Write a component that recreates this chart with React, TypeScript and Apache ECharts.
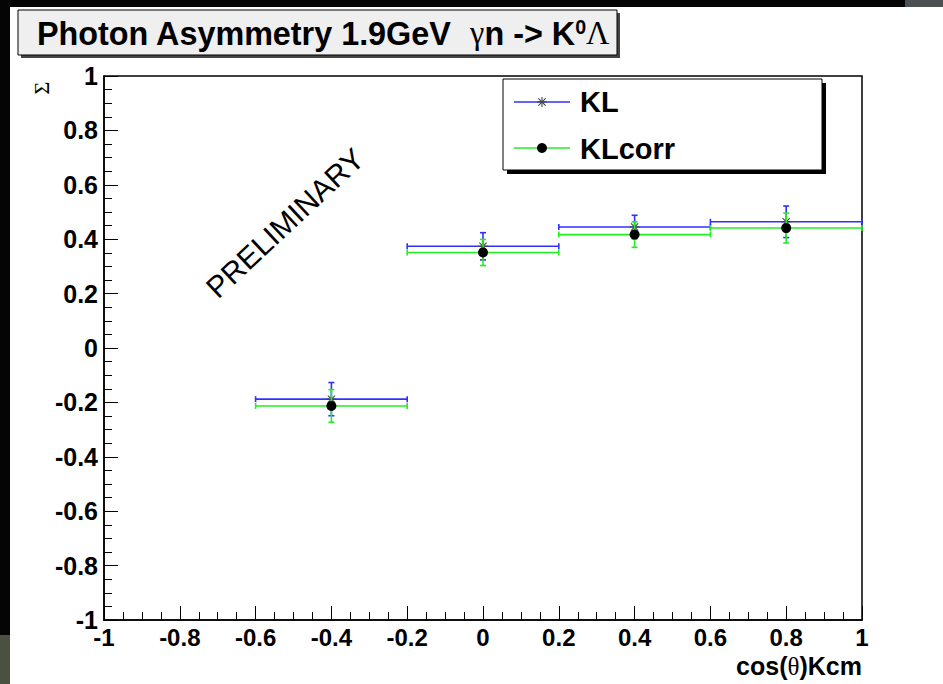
import React, { useEffect, useRef } from "react";
import * as echarts from "echarts";

// ---- data ----
const binCenters = [-0.4, 0, 0.4, 0.8];
const binHalfWidths = [0.2, 0.2, 0.2, 0.2];
const klValues = [-0.188, 0.374, 0.445, 0.464];
const klErrors = [0.061, 0.05, 0.043, 0.058];
const klCorrValues = [-0.213, 0.351, 0.417, 0.441];
const klCorrErrors = [0.06, 0.048, 0.047, 0.055];
const xTickLabels = ["-1", "-0.8", "-0.6", "-0.4", "-0.2", "0", "0.2", "0.4", "0.6", "0.8", "1"];
const yTickLabels = ["-1", "-0.8", "-0.6", "-0.4", "-0.2", "0", "0.2", "0.4", "0.6", "0.8", "1"];
const seriesNames = ["KL", "KLcorr"];

const FONT = "'Liberation Sans', Arial, Helvetica, sans-serif";
const SERIF = "'Liberation Serif', 'DejaVu Serif', serif";
const BLUE = "#3030ff";
const GREEN = "#22ee22";

function tickLabel(labels: string[], v: number) {
  const i = Math.round((v + 1) / 0.2);
  return labels[i] ?? "";
}

function errorSeries(
  name: string,
  values: number[],
  errors: number[],
  color: string,
  marker: "star" | "dot"
) {
  const data = binCenters.map((x, i) => [x, values[i], binHalfWidths[i], errors[i]]);
  return {
    type: "custom",
    name,
    data,
    encode: { x: 0, y: 1 },
    clip: false,
    renderItem: (_params: any, api: any) => {
      const x = api.value(0);
      const y = api.value(1);
      const hw = api.value(2);
      const e = api.value(3);
      const l = api.coord([x - hw, y]);
      const r = api.coord([x + hw, y]);
      const t = api.coord([x, y + e]);
      const b = api.coord([x, y - e]);
      const c = api.coord([x, y]);
      const cap = 3;
      const ls = { stroke: color, lineWidth: 1.6 };
      const line = (x1: number, y1: number, x2: number, y2: number, style: any = ls) => ({
        type: "line",
        shape: { x1, y1, x2, y2 },
        style,
      });
      const children: any[] = [
        line(l[0], l[1], r[0], r[1]),
        line(l[0], l[1] - cap, l[0], l[1] + cap),
        line(r[0], r[1] - cap, r[0], r[1] + cap),
        line(t[0], t[1], b[0], b[1]),
        line(t[0] - cap, t[1], t[0] + cap, t[1]),
        line(b[0] - cap, b[1], b[0] + cap, b[1]),
      ];
      if (marker === "dot") {
        children.push({ type: "circle", shape: { cx: c[0], cy: c[1], r: 5 }, style: { fill: "#000" } });
      } else {
        const s = 5;
        const ms = { stroke: "#444", lineWidth: 1.1 };
        children.push(line(c[0] - s, c[1], c[0] + s, c[1], ms));
        children.push(line(c[0], c[1] - s, c[0], c[1] + s, ms));
        children.push(line(c[0] - s * 0.72, c[1] - s * 0.72, c[0] + s * 0.72, c[1] + s * 0.72, ms));
        children.push(line(c[0] - s * 0.72, c[1] + s * 0.72, c[0] + s * 0.72, c[1] - s * 0.72, ms));
      }
      return { type: "group", children };
    },
  };
}

function starLines(cx: number, cy: number) {
  const s = 5;
  const st = { stroke: "#444", lineWidth: 1.1 };
  return [
    { type: "line", shape: { x1: cx - s, y1: cy, x2: cx + s, y2: cy }, style: st },
    { type: "line", shape: { x1: cx, y1: cy - s, x2: cx, y2: cy + s }, style: st },
    { type: "line", shape: { x1: cx - 3.6, y1: cy - 3.6, x2: cx + 3.6, y2: cy + 3.6 }, style: st },
    { type: "line", shape: { x1: cx - 3.6, y1: cy + 3.6, x2: cx + 3.6, y2: cy - 3.6 }, style: st },
  ];
}

const axisCommon = {
  type: "value",
  min: -1,
  max: 1,
  interval: 0.2,
  splitLine: { show: false },
  axisLine: { show: true, onZero: false, lineStyle: { color: "#000", width: 1.5 } },
  axisTick: { show: true, inside: true, length: 14, lineStyle: { color: "#000", width: 1 } },
  minorTick: { show: true, splitNumber: 4, length: 8, lineStyle: { color: "#000", width: 1 } },
};

const option: any = {
  animation: false,
  backgroundColor: "#fff",
  grid: {
    left: 104,
    top: 76,
    width: 758,
    height: 544,
    show: true,
    borderColor: "#000",
    borderWidth: 1.5,
    backgroundColor: "transparent",
  },
  xAxis: {
    ...axisCommon,
    axisLabel: {
      color: "#000",
      fontWeight: "bold",
      fontSize: 24,
      fontFamily: FONT,
      margin: 5,
      formatter: (v: number) => tickLabel(xTickLabels, v),
    },
  },
  yAxis: {
    ...axisCommon,
    axisLabel: {
      color: "#000",
      fontWeight: "bold",
      fontSize: 25,
      fontFamily: FONT,
      margin: 6,
      formatter: (v: number) => tickLabel(yTickLabels, v),
    },
  },
  series: [
    errorSeries(seriesNames[0], klValues, klErrors, BLUE, "star"),
    errorSeries(seriesNames[1], klCorrValues, klCorrErrors, GREEN, "dot"),
  ],
  graphic: [
    // photo background strips
    { type: "rect", shape: { x: 0, y: 0, width: 943, height: 7 }, style: { fill: "#050505" }, z: -1 },
    { type: "rect", shape: { x: 0, y: 0, width: 10, height: 684 }, style: { fill: "#050505" }, z: -1 },
    { type: "rect", shape: { x: 0, y: 635, width: 10, height: 49 }, style: { fill: "#4b5040" }, z: -1 },
    { type: "rect", shape: { x: 905, y: 0, width: 38, height: 7 }, style: { fill: "#4c5052" }, z: -1 },
    // title box
    { type: "rect", shape: { x: 21, y: 13, width: 599, height: 45 }, style: { fill: "#444" }, z: 10 },
    { type: "rect", shape: { x: 18, y: 10, width: 599, height: 45 }, style: { fill: "#efefef", stroke: "#000", lineWidth: 1 }, z: 11 },
    {
      type: "text",
      x: 37,
      y: 33,
      scaleX: 0.98,
      z: 12,
      style: {
        text: "{a|Photon Asymmetry 1.9GeV  }{g|γ}{a|n -> K}{s|0}{g|Λ}",
        verticalAlign: "middle",
        fill: "#000",
        rich: {
          a: { fontFamily: FONT, fontWeight: "bold", fontSize: 33, fill: "#000" },
          g: { fontFamily: SERIF, fontSize: 33, fill: "#000" },
          s: { fontFamily: FONT, fontWeight: "bold", fontSize: 20, fill: "#000", verticalAlign: "top" },
        },
      },
    },
    // legend
    { type: "rect", shape: { x: 507, y: 83, width: 319, height: 91 }, style: { fill: "#000" }, z: 20 },
    { type: "rect", shape: { x: 503, y: 79, width: 319, height: 91 }, style: { fill: "#fff", stroke: "#000", lineWidth: 1 }, z: 21 },
    { type: "line", shape: { x1: 514, y1: 102, x2: 570, y2: 102 }, style: { stroke: BLUE, lineWidth: 1.6 }, z: 22 },
    ...starLines(542, 102).map((e) => ({ ...e, z: 23 })),
    { type: "line", shape: { x1: 514, y1: 148, x2: 570, y2: 148 }, style: { stroke: GREEN, lineWidth: 1.6 }, z: 22 },
    { type: "circle", shape: { cx: 542, cy: 148, r: 5 }, style: { fill: "#000" }, z: 23 },
    { type: "text", x: 580, y: 102, z: 23, style: { text: seriesNames[0], fontFamily: FONT, fontWeight: "bold", fontSize: 29, fill: "#000", verticalAlign: "middle" } },
    { type: "text", x: 580, y: 149, z: 23, style: { text: seriesNames[1], fontFamily: FONT, fontWeight: "bold", fontSize: 29, fill: "#000", verticalAlign: "middle" } },
    // axis titles
    { type: "text", x: 862, y: 666, z: 5, style: { text: "{a|cos(}{g|θ}{a|)Kcm}", align: "right", verticalAlign: "middle", rich: { a: { fontFamily: FONT, fontWeight: "bold", fontSize: 25, fill: "#000" }, g: { fontFamily: SERIF, fontSize: 25, fill: "#000" } } } },
    { type: "text", x: 41, y: 88, rotation: Math.PI / 2, z: 5, style: { text: "Σ", fontFamily: SERIF, fontSize: 22, fill: "#000", align: "center", verticalAlign: "middle" } },
    // watermark
    { type: "text", x: 285, y: 223, rotation: (43 * Math.PI) / 180, z: 5, style: { text: "PRELIMINARY", fontFamily: FONT, fontSize: 30, fill: "#000", align: "center", verticalAlign: "middle" } },
  ],
};

export default function App() {
  const ref = useRef<HTMLDivElement>(null);
  useEffect(() => {
    const chart = echarts.init(ref.current!, null, { renderer: "svg" });
    chart.setOption(option);
    return () => chart.dispose();
  }, []);
  return <div ref={ref} style={{ position: "fixed", left: 0, top: 0, width: 943, height: 684 }} />;
}
